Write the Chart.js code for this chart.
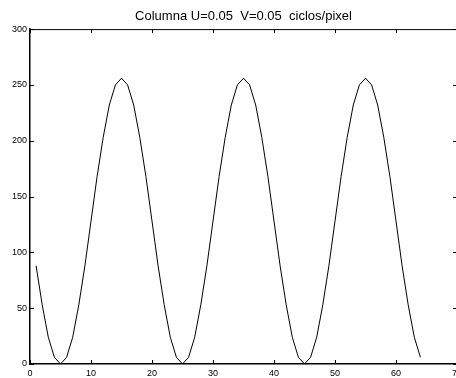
<!DOCTYPE html>
<html lang="es">
<head>
    <meta charset="UTF-8">
    <title>Columna</title>
    <script src="https://cdn.jsdelivr.net/npm/chart.js"></script>
    <style>
        html, body { margin: 0; padding: 0; background: #fff; overflow: hidden; }
        #wrap { width: 458px; height: 378px; }
    </style>
</head>
<body>
    <div id="wrap"><canvas id="colChart"></canvas></div>

    <script>
        // pixel index along the column
        const pixels = Array.from({ length: 64 }, (_, i) => i + 1);
        // intensity
        const intensity = [
            88, 53, 24, 6, 0, 6, 24, 53, 88, 128, 168, 203, 232, 250, 256, 250, 232, 203, 168, 128,
            88, 53, 24, 6, 0, 6, 24, 53, 88, 128, 168, 203, 232, 250, 256, 250, 232, 203, 168, 128,
            88, 53, 24, 6, 0, 6, 24, 53, 88, 128, 168, 203, 232, 250, 256, 250, 232, 203, 168, 128,
            88, 53, 24, 6
        ];
        const xTicks = [0, 10, 20, 30, 40, 50, 60, 70];
        const yTicks = [0, 50, 100, 150, 200, 250, 300];

        const tickFont = { family: 'Liberation Sans, Arial, sans-serif', size: 9 };

        // matlab style: box round the axes with ticks pointing inwards
        const boxTicks = {
            id: 'boxTicks',
            afterDraw(chart) {
                const ctx = chart.ctx;
                const a = chart.chartArea;
                const xs = chart.scales.x, ys = chart.scales.y;
                const len = 4;
                ctx.save();
                ctx.strokeStyle = '#000';
                ctx.lineWidth = 1;
                ctx.beginPath();
                ctx.moveTo(a.left, a.top + 0.5);
                ctx.lineTo(a.right, a.top + 0.5);
                ctx.moveTo(a.right - 0.5, a.top);
                ctx.lineTo(a.right - 0.5, a.bottom);
                xTicks.forEach(v => {
                    const px = Math.round(xs.getPixelForValue(v)) + 0.5;
                    ctx.moveTo(px, a.bottom);
                    ctx.lineTo(px, a.bottom - len);
                    ctx.moveTo(px, a.top);
                    ctx.lineTo(px, a.top + len);
                });
                yTicks.forEach(v => {
                    const py = Math.round(ys.getPixelForValue(v)) + 0.5;
                    ctx.moveTo(a.left, py);
                    ctx.lineTo(a.left + len, py);
                    ctx.moveTo(a.right, py);
                    ctx.lineTo(a.right - len, py);
                });
                ctx.stroke();
                ctx.restore();
            }
        };

        new Chart(document.getElementById('colChart'), {
            type: 'line',
            data: {
                datasets: [{
                    data: pixels.map((p, i) => ({ x: p, y: intensity[i] })),
                    borderColor: '#000',
                    borderWidth: 1,
                    pointRadius: 0,
                    tension: 0,
                    fill: false
                }]
            },
            options: {
                responsive: true,
                maintainAspectRatio: false,
                animation: false,
                events: [],
                layout: { padding: { left: 0, right: 1, top: 0, bottom: 0 } },
                plugins: {
                    legend: { display: false },
                    tooltip: { enabled: false },
                    title: {
                        display: true,
                        fullSize: false,
                        text: 'Columna U=0.05  V=0.05  ciclos/pixel',
                        color: '#000',
                        font: { family: 'Liberation Sans, Arial, sans-serif', size: 13, weight: 'normal' },
                        padding: { top: 8.5, bottom: 5 }
                    }
                },
                scales: {
                    x: {
                        type: 'linear',
                        min: 0,
                        max: 70,
                        afterBuildTicks: s => { s.ticks = xTicks.map(v => ({ value: v })); },
                        afterFit: s => { s.height = 14; s.paddingLeft = 0; s.paddingRight = 0; },
                        grid: { display: false, drawTicks: false },
                        border: { color: '#000', width: 1.5 },
                        ticks: { color: '#000', font: tickFont, padding: 4, maxRotation: 0, autoSkip: false }
                    },
                    y: {
                        min: 0,
                        max: 300,
                        afterBuildTicks: s => { s.ticks = yTicks.map(v => ({ value: v })); },
                        afterFit: s => { s.width = 30; s.paddingTop = 0; s.paddingBottom = 0; },
                        grid: { display: false, drawTicks: false },
                        border: { color: '#000', width: 1.5 },
                        ticks: { color: '#000', font: tickFont, padding: 3 }
                    }
                }
            },
            plugins: [boxTicks]
        });
    </script>
</body>
</html>
